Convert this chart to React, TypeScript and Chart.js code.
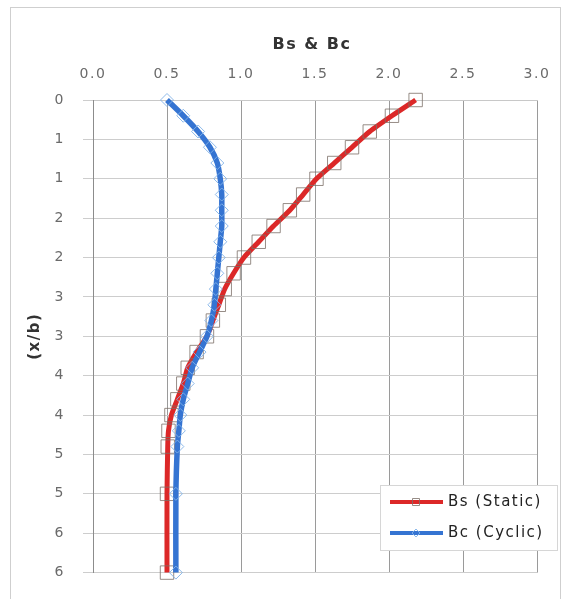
import React, { useEffect, useRef } from 'react';
import { Chart, registerables } from 'chart.js';

Chart.register(...registerables);

// ---- data ----
const depth = [0, 0.2, 0.4, 0.6, 0.8, 1.0, 1.2, 1.4, 1.6, 1.8, 2.0, 2.2, 2.4, 2.6, 2.8, 3.0, 3.2, 3.4, 3.6, 3.8, 4.0, 4.2, 4.4, 5.0, 6.0];
const bsStatic = [2.18, 2.02, 1.87, 1.75, 1.63, 1.51, 1.42, 1.33, 1.22, 1.12, 1.02, 0.95, 0.89, 0.85, 0.81, 0.77, 0.70, 0.64, 0.61, 0.57, 0.53, 0.51, 0.505, 0.5, 0.5];
const bcCyclic = [0.5, 0.61, 0.71, 0.79, 0.84, 0.86, 0.87, 0.87, 0.87, 0.86, 0.85, 0.84, 0.83, 0.82, 0.8, 0.77, 0.72, 0.67, 0.64, 0.61, 0.59, 0.58, 0.57, 0.56, 0.56];
const xTickLabels = ['0.0', '0.5', '1.0', '1.5', '2.0', '2.5', '3.0'];
const yTickLabels = ['0', '1', '1', '2', '2', '3', '3', '4', '4', '5', '5', '6', '6'];
const chartTitle = 'Bs & Bc';
const yAxisTitle = '(x/b)';
const seriesNames = ['Bs (Static)', 'Bc (Cyclic)'];

const RED = '#dc2828';
const BLUE = '#3574d2';
const RED_MARK = 'rgba(125,112,105,0.8)';
const BLUE_MARK = 'rgba(130,178,232,0.9)';
const FONT = '"DejaVu Sans", Verdana, sans-serif';

const decor = {
  id: 'decor',
  beforeDraw(chart: any) {
    const ctx = chart.ctx;
    ctx.save();
    ctx.fillStyle = '#ffffff';
    ctx.fillRect(0, 0, chart.width, chart.height);
    ctx.strokeStyle = '#cfcfcf';
    ctx.lineWidth = 1;
    ctx.strokeRect(10.5, 7.5, 550, 700);
    ctx.restore();
    ctx.letterSpacing = '1.5px';
  },
  afterDraw(chart: any) {
    const ctx = chart.ctx;
    const area = chart.chartArea;
    ctx.save();
    ctx.letterSpacing = '1.5px';
    // title
    ctx.fillStyle = '#333333';
    ctx.font = `bold 16px ${FONT}`;
    ctx.textAlign = 'center';
    ctx.textBaseline = 'middle';
    ctx.fillText(chartTitle, (area.left + area.right) / 2 - 3, 45);
    // y axis title
    ctx.save();
    ctx.translate(35, (area.top + area.bottom) / 2);
    ctx.rotate(-Math.PI / 2);
    ctx.font = `bold 15px ${FONT}`;
    ctx.fillStyle = '#333333';
    ctx.fillText(yAxisTitle, 0, 0);
    ctx.restore();
    // legend
    const bx = 380, by = 485, bw = 177, bh = 65;
    ctx.fillStyle = '#ffffff';
    ctx.fillRect(bx, by, bw, bh);
    ctx.strokeStyle = '#d6d6d6';
    ctx.lineWidth = 1;
    ctx.strokeRect(bx + 0.5, by + 0.5, bw, bh);
    const rows = [
      { y: 502, color: RED, mark: RED_MARK, style: 'rect', name: seriesNames[0] },
      { y: 533, color: BLUE, mark: BLUE_MARK, style: 'rectRot', name: seriesNames[1] },
    ];
    rows.forEach((r) => {
      ctx.strokeStyle = r.color;
      ctx.lineWidth = 4;
      ctx.beginPath();
      ctx.moveTo(390, r.y);
      ctx.lineTo(443, r.y);
      ctx.stroke();
      ctx.strokeStyle = r.mark;
      ctx.lineWidth = 1;
      ctx.beginPath();
      if (r.style === 'rect') {
        ctx.rect(412.5, r.y - 3.5, 7, 7);
      } else {
        ctx.moveTo(416, r.y - 4);
        ctx.lineTo(420, r.y);
        ctx.lineTo(416, r.y + 4);
        ctx.lineTo(412, r.y);
        ctx.closePath();
      }
      ctx.stroke();
      ctx.fillStyle = '#222222';
      ctx.font = `15px ${FONT}`;
      ctx.textAlign = 'left';
      ctx.textBaseline = 'middle';
      ctx.fillText(r.name, 448, r.y);
    });
    ctx.restore();
  },
};

export default function App() {
  const ref = useRef<HTMLCanvasElement>(null);

  useEffect(() => {
    document.body.style.margin = '0';
    const canvas = ref.current;
    if (!canvas) return;
    const chart = new Chart(canvas, {
      type: 'scatter',
      data: {
        datasets: [
          {
            label: seriesNames[0],
            data: depth.map((d, i) => ({ x: bsStatic[i], y: d })),
            showLine: true,
            borderColor: RED,
            borderWidth: 5,
            tension: 0.2,
            pointStyle: 'rect',
            pointRadius: 9.5,
            pointBorderColor: RED_MARK,
            pointBackgroundColor: 'rgba(0,0,0,0)',
            pointBorderWidth: 1,
            clip: false,
            order: 2,
          },
          {
            label: seriesNames[1],
            data: depth.map((d, i) => ({ x: bcCyclic[i], y: d })),
            showLine: true,
            borderColor: BLUE,
            borderWidth: 5.5,
            tension: 0.2,
            pointStyle: 'rectRot',
            pointRadius: 6.5,
            pointBorderColor: BLUE_MARK,
            pointBackgroundColor: 'rgba(0,0,0,0)',
            pointBorderWidth: 1,
            clip: false,
            order: 1,
          },
        ],
      },
      options: {
        responsive: false,
        animation: false,
        devicePixelRatio: 1,
        layout: { padding: { left: 0, right: 33, top: 60, bottom: 20 } },
        plugins: {
          legend: { display: false },
          title: { display: false },
          tooltip: { enabled: false },
        },
        scales: {
          x: {
            type: 'linear',
            position: 'top',
            min: 0,
            max: 3,
            afterFit: (s: any) => { s.height = 40; },
            ticks: {
              stepSize: 0.5,
              autoSkip: false,
              padding: 17,
              color: '#6a6a6a',
              font: { family: FONT, size: 14 },
              callback: (v: any) => xTickLabels[Math.round(Number(v) / 0.5)],
            },
            grid: { color: '#9a9a9a', drawTicks: false, lineWidth: 1 },
            border: { display: true, color: '#c8c8c8' },
          },
          y: {
            type: 'linear',
            reverse: true,
            min: 0,
            max: 6,
            afterFit: (s: any) => { s.width = 93; },
            ticks: {
              stepSize: 0.5,
              autoSkip: false,
              padding: 18,
              color: '#6a6a6a',
              font: { family: FONT, size: 14 },
              callback: (v: any) => yTickLabels[Math.round(Number(v) / 0.5)],
            },
            grid: { color: '#cdcdcd', tickLength: 10, lineWidth: 1 },
            border: { display: true, color: '#8c8c8c' },
          },
        },
      },
      plugins: [decor],
    } as any);
    return () => chart.destroy();
  }, []);

  return (
    <div style={{ position: 'relative', width: 570, height: 599 }}>
      <canvas ref={ref} width={570} height={599} />
    </div>
  );
}
